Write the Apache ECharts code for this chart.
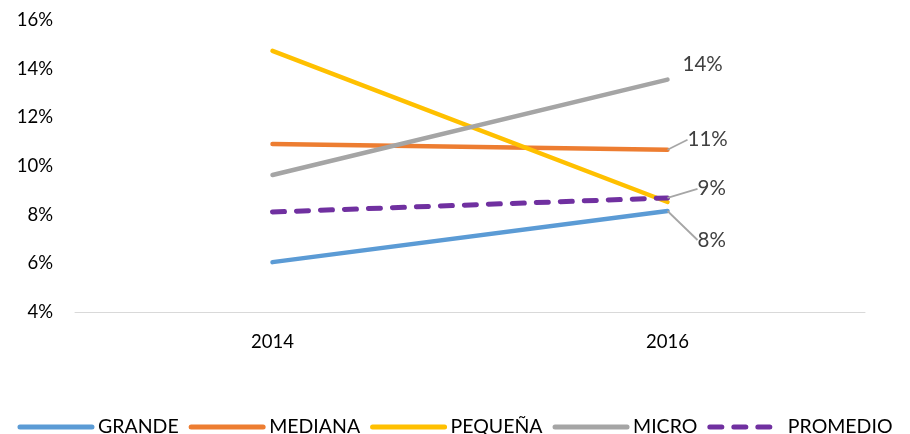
<!DOCTYPE html>
<html><head><meta charset="utf-8">
<script src="https://cdn.jsdelivr.net/npm/echarts@6/dist/echarts.min.js"></script>
<style>html,body{margin:0;padding:0;background:#fff}#c{width:910px;height:434px}</style>
</head><body><div id="c"></div>
<script>
const categories = ['2014', '2016'];
const grande = [6.05, 8.15];
const mediana = [10.9, 10.67];
const pequena = [14.73, 8.52];
const micro = [9.63, 13.55];
const promedio = [8.11, 8.69];
const yTicks = [4, 6, 8, 10, 12, 14, 16];
const seriesNames = ['GRANDE', 'MEDIANA', 'PEQUEÑA', 'MICRO', 'PROMEDIO'];

const FONT = 'Lato, "Open Sans", sans-serif';
const colors = ['#5B9BD5', '#ED7D31', '#FFC000', '#A5A5A5', '#7030A0'];
// label offsets (pixels) for the last point of each series; null = no label
const labelOffsets = [[25, 29], [15, -10], null, [10, -15], [25, -9]];
const labelLines = [true, true, false, false, true];

function mk(i, data, dashed) {
  const off = labelOffsets[i];
  return {
    name: seriesNames[i], type: 'line', data: data.map((v, k) => ({
      value: v,
      label: { show: off !== null && k === data.length - 1 }
    })),
    symbol: 'circle', symbolSize: 0, showSymbol: true,
    lineStyle: { color: colors[i], width: dashed ? 5 : 4.5, type: dashed ? [12, 12] : 'solid', cap: 'round' },
    itemStyle: { color: colors[i] },
    label: {
      position: 'right', distance: 5,
      formatter: p => Math.round(p.value) + '%',
      color: '#404040', fontSize: 20.5, fontFamily: FONT
    },
    labelLine: { show: labelLines[i], lineStyle: { color: '#A6A6A6', width: 1.8 } },
    labelLayout: off ? { dx: off[0], dy: off[1] } : undefined,
    z: dashed ? 5 : 2
  };
}

const chart = echarts.init(document.getElementById('c'));
chart.setOption({
  animation: false,
  color: colors,
  grid: { left: 75, right: 45, top: 20, bottom: 122 },
  legend: {
    top: 412, left: 'center', itemWidth: 72, itemHeight: 18, itemGap: 10,
    lineStyle: { width: 5, cap: 'round' },
    itemStyle: { opacity: 0 },
    textStyle: { fontSize: 19.5, color: '#000', fontFamily: FONT, padding: [0, 0, 0, 1] },
    data: seriesNames
  },
  xAxis: {
    type: 'category', data: categories, boundaryGap: true,
    axisLine: { lineStyle: { color: '#D9D9D9', width: 1 } },
    axisTick: { show: false },
    axisLabel: { color: '#000', fontSize: 18.5, fontFamily: FONT, margin: 21 }
  },
  yAxis: {
    type: 'value', min: yTicks[0], max: yTicks[yTicks.length - 1], interval: 2,
    splitLine: { show: false },
    axisLine: { show: false }, axisTick: { show: false },
    axisLabel: { color: '#000', fontSize: 18.5, fontFamily: FONT, margin: 22, formatter: v => v + '%' }
  },
  series: [mk(0, grande), mk(1, mediana), mk(2, pequena), mk(3, micro), mk(4, promedio, true)]
});
</script></body></html>
